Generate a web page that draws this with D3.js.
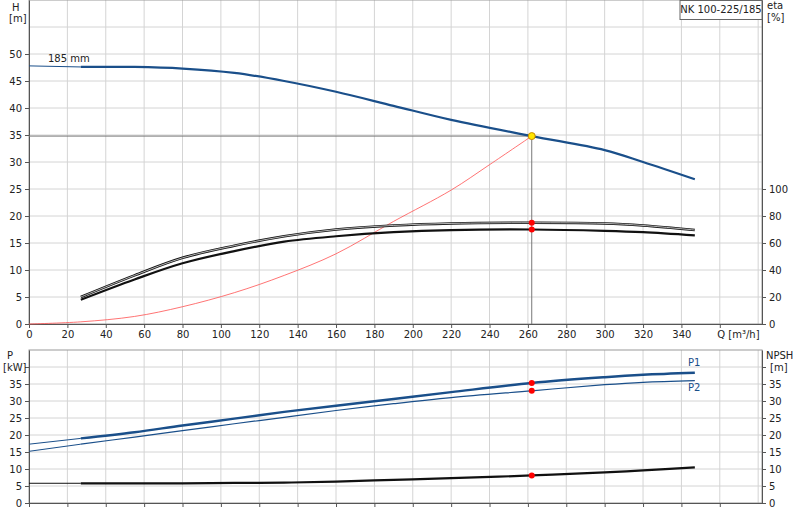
<!DOCTYPE html>
<html><head><meta charset="utf-8">
<script src="https://cdn.jsdelivr.net/npm/d3@7"></script>
<style>body{margin:0;background:#fff}svg{font-family:"DejaVu Sans",sans-serif;font-size:10px}</style>
</head><body><svg id="c" width="800" height="520"></svg>
<script>
const qHead = [27, 55, 80, 107, 133, 160, 190, 220, 262, 300, 320, 347];
const head = [47.6, 47.6, 47.3, 46.5, 45.0, 43.0, 40.4, 37.8, 34.8, 32.2, 30.0, 26.8];
const headExt = [[0, 47.8], [27, 47.6]];
const etaUpper = [20, 36, 49, 58, 65, 70, 73, 74.5, 75, 74.5, 73, 69.6];
const etaLower = [18, 33, 45, 54, 61, 65, 68, 69.6, 70, 69, 68, 65.6];
const qSys = [0, 27, 55, 80, 107, 133, 160, 190, 220, 240, 262];
const hSys = [0, 0.4, 1.4, 3.2, 5.8, 9.0, 13.0, 19.0, 24.8, 29.5, 34.8];
const p1 = [19.0, 20.8, 22.8, 24.8, 26.8, 28.6, 30.6, 32.6, 35.3, 37.0, 37.7, 38.3];
const p2 = [17.3, 19.4, 21.3, 23.3, 25.2, 27.2, 29.2, 31.0, 33.0, 34.8, 35.5, 36.0];
const p1Ext = [[0, 17.3], [27, 19.0]];
const p2Ext = [[0, 15.2], [27, 17.3]];
const npsh = [5.8, 5.8, 5.8, 5.9, 6.0, 6.3, 6.8, 7.3, 8.1, 9.0, 9.6, 10.5];
const npshExt = [[0, 5.8], [27, 5.8]];
const duty = { q: 262, h: 34.8, etaU: 75, etaL: 70, p1: 35.3, p2: 33.0, npsh: 8.1 };
const qTicks = d3.range(0, 361, 20);
const hTicks = d3.range(0, 51, 5);
const etaTicks = d3.range(0, 101, 20);
const pTicks = d3.range(0, 36, 5);

const svg = d3.select("#c");
const x = d3.scaleLinear().domain([0, 382]).range([29, 762]);
const yH = d3.scaleLinear().domain([0, 60]).range([324, 0]);
const yEta = d3.scaleLinear().domain([0, 240]).range([324, 0]);
const yP = d3.scaleLinear().domain([0, 45]).range([503, 350]);
const grid = "#d4d4d4", axisCol = "#555";

function panel(y, y0, y1, gridTicks) {
  svg.append("g").selectAll("line").data(d3.range(20, 381, 20)).join("line")
    .attr("x1", d => x(d)).attr("x2", d => x(d)).attr("y1", y0).attr("y2", y1)
    .attr("stroke", grid);
  svg.append("g").selectAll("line").data(gridTicks).join("line")
    .attr("x1", 29).attr("x2", 762).attr("y1", d => y(d)).attr("y2", d => y(d))
    .attr("stroke", grid);
  svg.append("rect").attr("x", 29).attr("y", y0).attr("width", 733).attr("height", y1 - y0)
    .attr("fill", "none").attr("stroke", "#999");
}
panel(yH, 0, 324, d3.range(5, 56, 5));
panel(yP, 350, 503, d3.range(5, 41, 5));

function styleAxis(g) {
  g.selectAll("path,line").attr("stroke", axisCol);
  g.selectAll("text").attr("fill", "#222").style("font-family", "DejaVu Sans").style("font-size", "10px");
}
svg.append("g").attr("transform", "translate(29,0)").call(d3.axisLeft(yH).tickValues(hTicks).tickSize(4).tickSizeOuter(0)).call(styleAxis);
svg.append("g").attr("transform", "translate(762,0)").call(d3.axisRight(yEta).tickValues(etaTicks).tickSize(4).tickSizeOuter(0)).call(styleAxis);
svg.append("g").attr("transform", "translate(0,324)").call(d3.axisBottom(x).tickValues(qTicks).tickSize(4).tickSizeOuter(0)).call(styleAxis)
  .call(g => g.selectAll(".tick").filter(d => d === 360).select("text").text("Q [m³/h]").attr("text-anchor", "start").attr("x", -3));
svg.append("g").attr("transform", "translate(29,0)").call(d3.axisLeft(yP).tickValues(pTicks.concat([40])).tickSize(4).tickSizeOuter(0)).call(styleAxis)
  .call(g => g.selectAll(".tick").filter(d => d === 40).select("text").remove());
svg.append("g").attr("transform", "translate(762,0)").call(d3.axisRight(yP).tickValues(pTicks.concat([40])).tickSize(4).tickSizeOuter(0)).call(styleAxis)
  .call(g => g.selectAll(".tick").filter(d => d === 40).select("text").remove());
svg.append("g").attr("transform", "translate(0,503)").call(d3.axisBottom(x).tickValues(qTicks).tickSize(4).tickFormat("").tickSizeOuter(0)).call(styleAxis);

const txt = (t, px, py, anchor = "start") => svg.append("text").attr("x", px).attr("y", py).attr("text-anchor", anchor).attr("fill", "#222").text(t);
txt("H", 12, 11); txt("[m]", 9, 22);
txt("eta", 767, 9); txt("[%]", 767, 21);
txt("P", 7, 359); txt("[kW]", 3, 371);
txt("NPSH", 766, 359); txt("[m]", 770, 371);
svg.append("rect").attr("x", 680).attr("y", 0.5).attr("width", 82).attr("height", 19).attr("fill", "#fff").attr("stroke", "#666");
txt("NK 100-225/185", 721, 13, "middle");
txt("185 mm", 48, 62);
svg.append("text").attr("x", 688).attr("y", 366).attr("fill", "#1a4f8a").text("P1");
svg.append("text").attr("x", 688).attr("y", 391).attr("fill", "#1a4f8a").text("P2");

const line = (yS) => d3.line().curve(d3.curveCatmullRom).x(d => x(d[0])).y(d => yS(d[1]));
const zip = (vals) => qHead.map((q, i) => [q, vals[i]]);
function draw(data, yS, col, w) {
  svg.append("path").datum(data).attr("d", line(yS)).attr("fill", "none").attr("stroke", col).attr("stroke-width", w);
}
// duty point guides
svg.append("line").attr("x1", 29).attr("x2", x(duty.q)).attr("y1", yH(duty.h)).attr("y2", yH(duty.h)).attr("stroke", "#777");
svg.append("line").attr("x1", x(duty.q)).attr("x2", x(duty.q)).attr("y1", yH(duty.h)).attr("y2", 324).attr("stroke", "#777");

draw(qSys.map((q, i) => [q, hSys[i]]), yH, "#ff5050", 0.8);
draw(headExt, yH, "#1a4f8a", 1);
draw(zip(head), yH, "#1a4f8a", 2.2);
draw(zip(etaUpper), yEta, "#111", 2.6); draw(zip(etaUpper), yEta, "#fff", 0.7);
draw(zip(etaLower), yEta, "#111", 2.2);
draw(p1Ext, yP, "#1a4f8a", 1);
draw(p2Ext, yP, "#1a4f8a", 1);
draw(zip(p1), yP, "#1a4f8a", 2.4);
draw(zip(p2), yP, "#1a4f8a", 1.2);
draw(npshExt, yP, "#111", 1);
draw(zip(npsh), yP, "#111", 2.2);

const dot = (yv, col, r) => svg.append("circle").attr("cx", x(duty.q)).attr("cy", yv).attr("r", r).attr("fill", col).attr("stroke", col === "red" ? "none" : "#c98a00");
dot(yEta(duty.etaU), "red", 3); dot(yEta(duty.etaL), "red", 3);
dot(yP(duty.p1), "red", 3); dot(yP(duty.p2), "red", 3); dot(yP(duty.npsh), "red", 3);
dot(yH(duty.h), "#ffe600", 3.5);
</script></body></html>
